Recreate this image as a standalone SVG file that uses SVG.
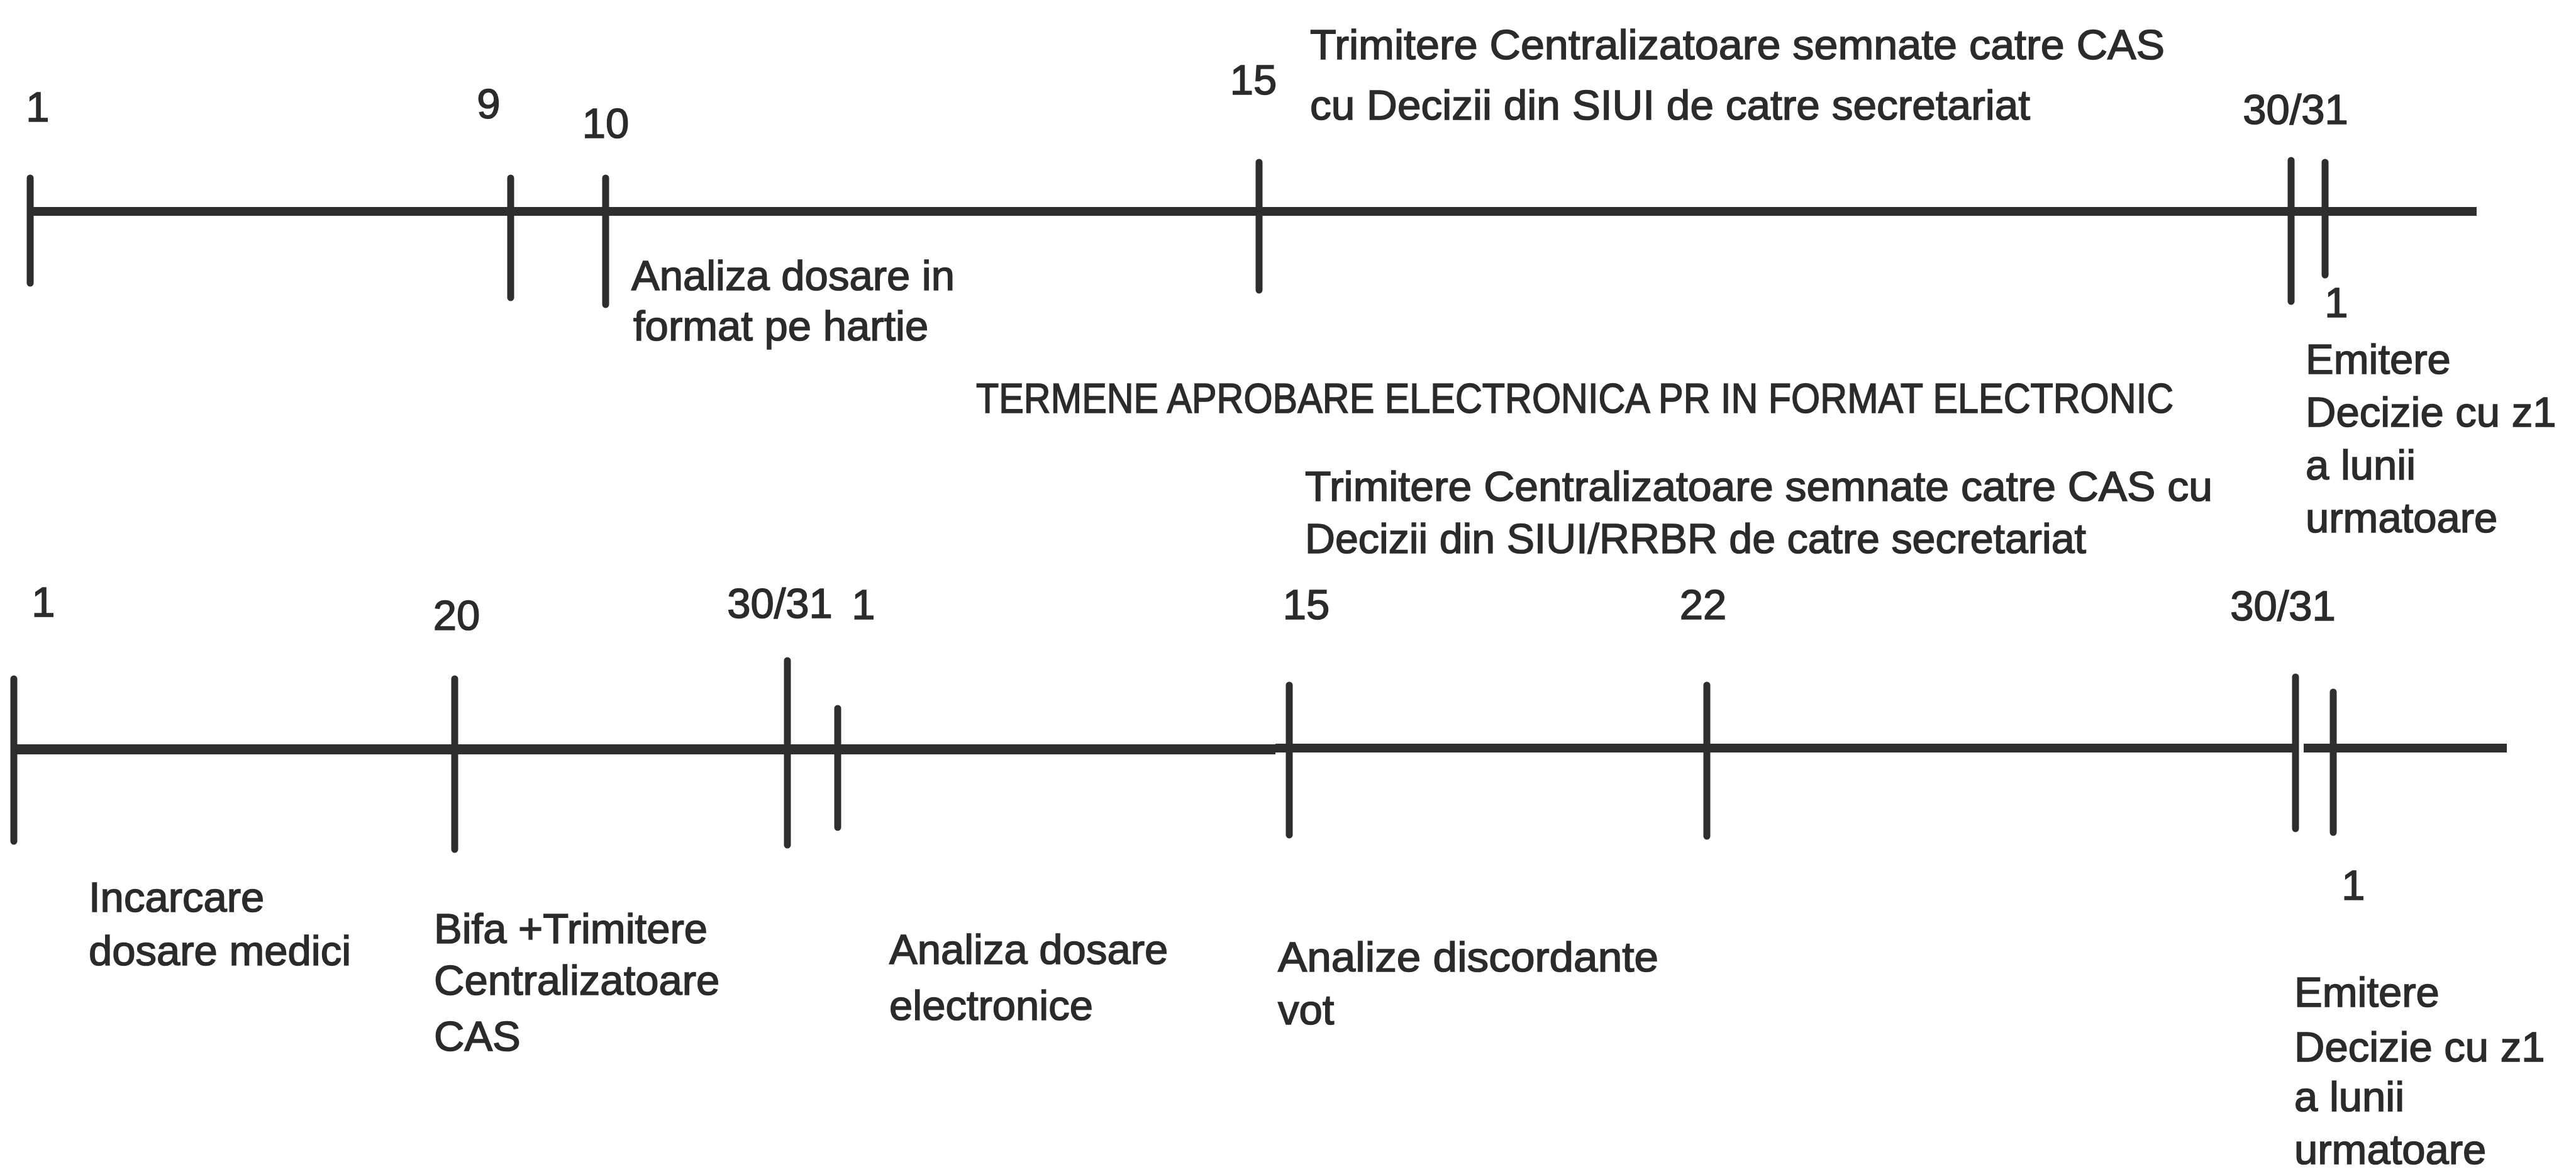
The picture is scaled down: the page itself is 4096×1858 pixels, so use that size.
<svg xmlns="http://www.w3.org/2000/svg" width="4096" height="1858" viewBox="0 0 4096 1858">
<style>
.t{font-family:"Liberation Sans",Arial,sans-serif;font-size:67px;fill:#2b2b2b;stroke:#2b2b2b;stroke-width:1.6}
.m{text-anchor:middle}
.ax{stroke:#2e2e2e;stroke-width:14;fill:none}
.tk{stroke:#2e2e2e;stroke-width:11;stroke-linecap:round;fill:none}
</style>
<rect width="4096" height="1858" fill="#ffffff"/>
<g id="connectors">
<line id="axis-top" class="ax" x1="43" y1="336" x2="3938" y2="336"/>
<line id="axis-bottom-a" class="ax" x1="17" y1="1191" x2="2028" y2="1191" style="stroke-width:16"/>
<line id="axis-bottom-b" class="ax" x1="2028" y1="1189" x2="3652" y2="1189"/>
<line id="axis-bottom-c" class="ax" x1="3663" y1="1189" x2="3986" y2="1189"/>
</g>
<g id="top-1"><line class="tk" x1="48" y1="283" x2="48" y2="450"/><text class="t m" x="60" y="193">1</text></g>
<g id="top-9"><line class="tk" x1="812" y1="283" x2="812" y2="473"/><text class="t m" x="777" y="188">9</text></g>
<g id="top-10"><line class="tk" x1="963" y1="283" x2="963" y2="484"/><text class="t m" x="963" y="219">10</text>
<text class="t" x="1004" y="461">Analiza dosare in</text><text class="t" x="1007" y="541">format pe hartie</text></g>
<g id="top-15"><line class="tk" x1="2002" y1="258" x2="2002" y2="461"/><text class="t m" x="1993" y="150">15</text>
<text class="t" x="2083" y="94" textLength="1359" lengthAdjust="spacingAndGlyphs">Trimitere Centralizatoare semnate catre CAS</text>
<text class="t" x="2083" y="190" textLength="1145" lengthAdjust="spacingAndGlyphs">cu Decizii din SIUI de catre secretariat</text></g>
<g id="top-30-31"><line class="tk" x1="3643" y1="255" x2="3643" y2="479"/><text class="t m" x="3650" y="197">30/31</text></g>
<g id="top-next-1"><line class="tk" x1="3697" y1="258" x2="3697" y2="437"/><text class="t m" x="3715" y="504">1</text>
<text class="t" x="3666" y="594">Emitere</text><text class="t" x="3666" y="678">Decizie cu z1</text><text class="t" x="3666" y="762">a lunii</text><text class="t" x="3666" y="846">urmatoare</text></g>
<g id="title"><text class="t" x="1552" y="656" textLength="1904" lengthAdjust="spacingAndGlyphs">TERMENE APROBARE ELECTRONICA PR IN FORMAT ELECTRONIC</text></g>
<g id="bot-1"><line class="tk" x1="22" y1="1079" x2="22" y2="1337"/><text class="t m" x="69" y="980">1</text>
<text class="t" x="141" y="1449">Incarcare</text><text class="t" x="141" y="1534">dosare medici</text></g>
<g id="bot-20"><line class="tk" x1="723" y1="1079" x2="723" y2="1350"/><text class="t m" x="726" y="1001">20</text>
<text class="t" x="690" y="1499">Bifa +Trimitere</text><text class="t" x="690" y="1581">Centralizatoare</text><text class="t" x="690" y="1670">CAS</text></g>
<g id="bot-30-31"><line class="tk" x1="1252" y1="1050" x2="1252" y2="1343"/><text class="t m" x="1240" y="982">30/31</text></g>
<g id="bot-next-1"><line class="tk" x1="1332" y1="1126" x2="1332" y2="1315"/><text class="t m" x="1373" y="984">1</text>
<text class="t" x="1414" y="1532">Analiza dosare</text><text class="t" x="1414" y="1621">electronice</text></g>
<g id="bot-15"><line class="tk" x1="2050" y1="1089" x2="2050" y2="1327"/><text class="t m" x="2077" y="984">15</text>
<text class="t" x="2075" y="796" textLength="1443" lengthAdjust="spacingAndGlyphs">Trimitere Centralizatoare semnate catre CAS cu</text>
<text class="t" x="2075" y="879" textLength="1242" lengthAdjust="spacingAndGlyphs">Decizii din SIUI/RRBR de catre secretariat</text>
<text class="t" x="2032" y="1544" textLength="605" lengthAdjust="spacingAndGlyphs">Analize discordante</text><text class="t" x="2032" y="1628">vot</text></g>
<g id="bot-22"><line class="tk" x1="2714" y1="1089" x2="2714" y2="1329"/><text class="t m" x="2708" y="984">22</text></g>
<g id="bot-30-31-end"><line class="tk" x1="3650" y1="1076" x2="3650" y2="1317"/><text class="t m" x="3630" y="986">30/31</text></g>
<g id="bot-next-1-end"><line class="tk" x1="3710" y1="1100" x2="3710" y2="1323"/><text class="t m" x="3742" y="1430">1</text>
<text class="t" x="3648" y="1600">Emitere</text><text class="t" x="3648" y="1687">Decizie cu z1</text><text class="t" x="3648" y="1766">a lunii</text><text class="t" x="3648" y="1850">urmatoare</text></g>
</svg>
